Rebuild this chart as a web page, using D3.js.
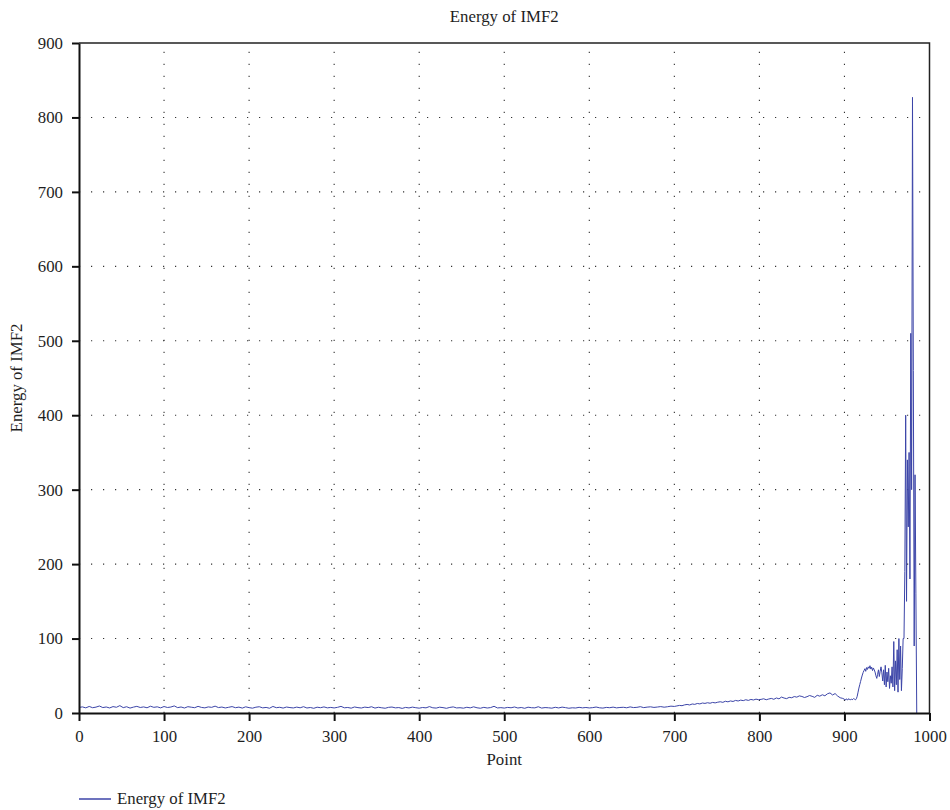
<!DOCTYPE html>
<html>
  <head>
    <meta charset="UTF-8" />
    <title>Energy of IMF2</title>
    <style>
      body { margin: 0; background: #fff; }
      svg text { font-family: 'Liberation Serif', 'Times New Roman', serif !important; fill: #1e1e1e; }
    </style>
    <script src="https://d3js.org/d3.v7.min.js"></script>
  </head>
  <body>
    <div id="viz"></div>
    <script>
      // energy values
      // points 0..696, every 4th point
      const energyA = [
        7.5,8.2,6.9,8.8,7.1,7.9,9.4,7.3,8.1,6.8,8.6,7.7,9.9,7.2,8.4,6.6,7.9,8.9,7.4,8.2,7.0,9.1,7.6,8.3,6.9,
        8.7,7.4,8.0,9.5,7.2,8.1,6.7,8.5,7.8,7.1,8.9,7.5,6.9,8.2,7.6,9.2,7.3,8.0,6.8,7.7,8.6,7.1,7.9,6.6,8.3,
        7.2,6.5,7.8,8.4,6.9,7.5,6.4,8.8,7.1,7.7,6.6,8.0,7.3,6.8,7.9,7.0,8.5,6.7,7.4,6.3,7.8,7.1,8.2,6.9,7.5,
        6.8,7.6,8.9,7.0,7.4,6.5,8.1,7.2,6.7,7.9,7.3,8.4,6.6,7.7,7.0,6.4,7.6,8.0,6.9,7.3,6.2,7.5,6.8,7.9,7.1,
        6.5,7.4,6.9,8.6,7.0,6.6,7.8,7.2,6.3,7.5,8.2,6.8,7.1,6.5,7.7,6.9,8.3,7.0,6.4,7.6,6.7,7.3,9.0,6.8,7.2,
        6.6,7.5,7.0,8.1,6.7,7.4,6.3,7.8,7.1,6.9,8.4,6.6,7.3,7.0,6.5,7.7,6.8,7.9,7.2,6.4,7.0,6.7,7.6,6.9,7.4,
        6.8,7.2,8.0,7.0,6.6,7.5,7.1,7.9,6.9,7.4,7.7,7.0,8.2,7.3,7.6,8.5,7.2,7.9,8.3,7.5,8.0,8.6,7.8,8.4,9.2
      ];
      // points 700..898, every 3rd point
      const energyB = [
        8.8,9.5,10.2,9.8,10.9,11.5,10.8,12.1,11.6,12.8,12.2,13.4,12.9,13.8,13.1,14.2,
        13.6,14.5,15.1,14.3,15.8,15.0,16.2,15.5,16.9,16.1,17.3,16.6,17.8,16.9,18.2,17.5,
        18.6,17.9,18.3,19.1,17.8,18.8,19.6,18.4,20.2,19.0,21.4,20.1,19.3,21.0,20.5,22.1,
        21.3,23.0,22.2,20.8,21.9,23.5,22.4,21.0,23.8,22.6,24.5,23.1,25.8,27.0,24.2,26.1,22.8,20.5,19.6
      ];
      // points 900..985, every point
      const energyC = [
        18.5,17.2,19.0,18.1,17.5,19.3,18.0,17.6,18.8,17.9,18.4,19.6,18.2,17.7,19.1,
        22.5,28.0,33.5,38.0,42.5,47.0,51.0,54.5,57.0,59.5,56.0,61.0,58.5,62.0,60.0,
        63.5,59.0,61.5,57.0,60.5,58.0,55.0,50.0,46.5,52.0,58.0,49.0,56.0,62.0,54.0,
        43,58,38,64,35,55,42,60,33,50,
        40,62,35,96,30,70,38,85,28,100,45,90,30,60,100,
        100,190,400,150,340,250,350,180,510,300,827,460,90,320,160,0
      ];
      const segments = [
        { start: 0, step: 4, values: energyA },
        { start: 700, step: 3, values: energyB },
        { start: 900, step: 1, values: energyC }
      ];
      const xTicks = [0, 100, 200, 300, 400, 500, 600, 700, 800, 900, 1000];
      const yTicks = [0, 100, 200, 300, 400, 500, 600, 700, 800, 900];
      const seriesName = 'Energy of IMF2';

      const width = 950, height = 810;
      const margin = { left: 79, right: 20.5, top: 43, bottom: 97 };
      const innerW = width - margin.left - margin.right;
      const innerH = height - margin.top - margin.bottom;
      const fontSize = '16.8px';

      const data = [];
      segments.forEach((s) => {
        s.values.forEach((v, i) => data.push([s.start + i * s.step, v]));
      });

      const svg = d3.select('#viz').append('svg')
        .attr('width', width).attr('height', height);
      const g = svg.append('g')
        .attr('transform', `translate(${margin.left},${margin.top})`);

      const x = d3.scaleLinear().domain([0, 1000]).range([0, innerW]);
      const y = d3.scaleLinear().domain([0, 900]).range([innerH, 0]);

      // dotted grid
      g.append('g').selectAll('line')
        .data(xTicks.slice(1, -1))
        .join('line')
        .attr('x1', (d) => x(d)).attr('x2', (d) => x(d))
        .attr('y1', innerH).attr('y2', 0)
        .attr('stroke', '#333').attr('stroke-width', 1.1)
        .attr('stroke-dasharray', '1.2,10.8');
      g.append('g').selectAll('line')
        .data(yTicks.slice(1, -1))
        .join('line')
        .attr('x1', 0).attr('x2', innerW)
        .attr('y1', (d) => y(d)).attr('y2', (d) => y(d))
        .attr('stroke', '#333').attr('stroke-width', 1.1)
        .attr('stroke-dasharray', '1.2,10.8');

      // top and right frame
      g.append('path')
        .attr('d', `M0,0H${innerW}V${innerH}`)
        .attr('fill', 'none').attr('stroke', '#222').attr('stroke-width', 1.5);

      // series
      g.append('path')
        .datum(data)
        .attr('fill', 'none')
        .attr('stroke', '#3c45a8')
        .attr('stroke-width', 1)
        .attr('stroke-linejoin', 'round')
        .attr('d', d3.line().x((d) => x(d[0])).y((d) => y(d[1])));

      // axes
      const axX = g.append('g')
        .attr('transform', `translate(0,${innerH})`)
        .call(d3.axisBottom(x).tickValues(xTicks).tickFormat(d3.format('d'))
          .tickSize(8).tickSizeOuter(0).tickPadding(9));
      const axY = g.append('g')
        .call(d3.axisLeft(y).tickValues(yTicks).tickFormat(d3.format('d'))
          .tickSize(7).tickSizeOuter(0).tickPadding(9));
      [axX, axY].forEach((ax) => {
        ax.attr('font-family', "'Liberation Serif', serif").attr('font-size', fontSize);
        ax.select('.domain').attr('stroke', '#111').attr('stroke-width', 2);
        ax.selectAll('.tick line').attr('stroke', '#111').attr('stroke-width', 2);
        ax.selectAll('.tick text').attr('fill', '#1e1e1e');
      });

      // title and labels
      svg.append('text')
        .attr('x', margin.left + innerW / 2).attr('y', 22)
        .attr('text-anchor', 'middle').style('font-size', fontSize)
        .text(seriesName);
      svg.append('text')
        .attr('x', margin.left + innerW / 2).attr('y', 765)
        .attr('text-anchor', 'middle').style('font-size', fontSize)
        .text('Point');
      svg.append('text')
        .attr('transform', `translate(22,${margin.top + innerH / 2}) rotate(-90)`)
        .attr('text-anchor', 'middle').style('font-size', fontSize)
        .text(seriesName);

      // legend
      const lg = svg.append('g').attr('transform', 'translate(79,799)');
      lg.append('line')
        .attr('x1', 0).attr('x2', 32).attr('y1', 0).attr('y2', 0)
        .attr('stroke', '#3c45a8').attr('stroke-width', 1.5);
      lg.append('text')
        .attr('x', 38).attr('y', 5).style('font-size', fontSize)
        .text(seriesName);
    </script>
  </body>
</html>
